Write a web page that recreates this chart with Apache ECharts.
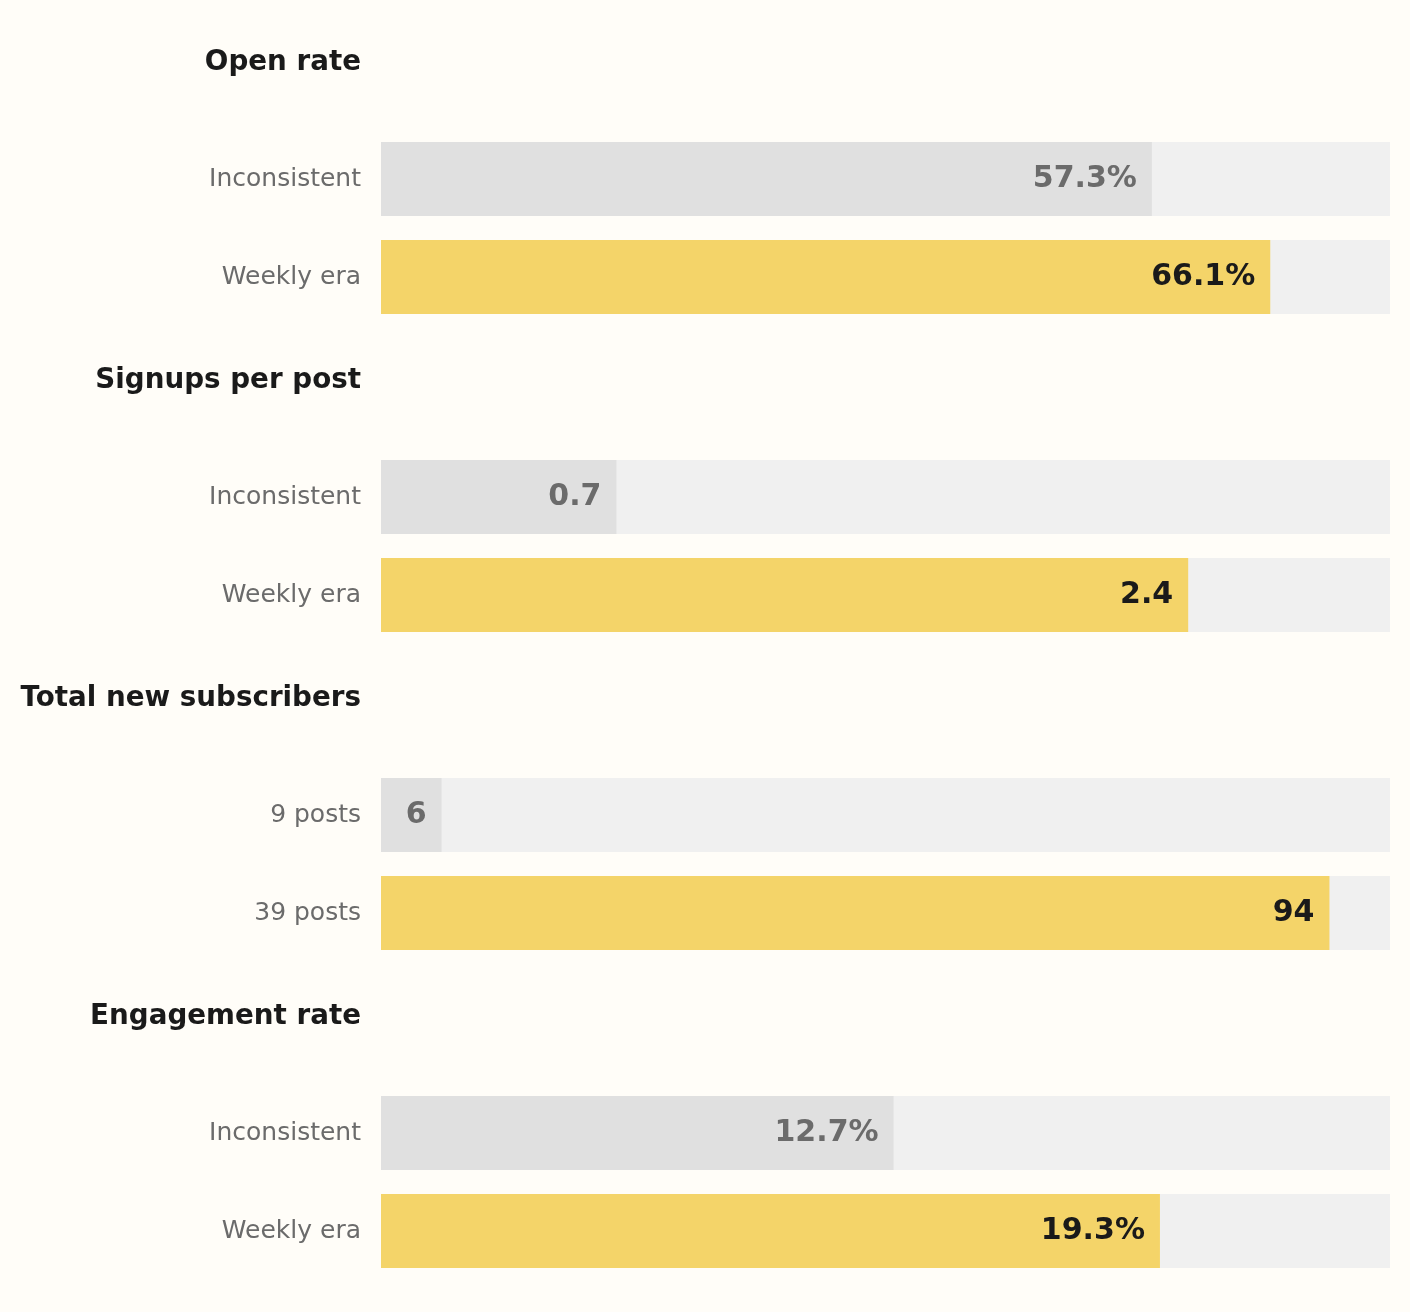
<!DOCTYPE html>
<html>
<head>
<meta charset="utf-8">
<script src="https://cdn.jsdelivr.net/npm/echarts@6/dist/echarts.min.js"></script>
<style>
  html, body { margin: 0; padding: 0; background: #FFFDF8; }
  #chart { width: 1410px; height: 1312px; }
</style>
</head>
<body>
<div id="chart"></div>
<script>
// data
const groupTitles = ['Open rate', 'Signups per post', 'Total new subscribers', 'Engagement rate'];
const rowLabels = [
  ['Inconsistent', 'Weekly era'],
  ['Inconsistent', 'Weekly era'],
  ['9 posts', '39 posts'],
  ['Inconsistent', 'Weekly era']
];
const beforeValues = [57.3, 0.7, 6, 12.7];
const afterValues = [66.1, 2.4, 94, 19.3];
const axisMax = [75, 3, 100, 25];
const units = ['%', '', '', '%'];

const FONT = 'DejaVu Sans';
const groupStep = 318;

const chart = echarts.init(document.getElementById('chart'));

const grids = [], xAxes = [], yAxes = [], series = [], texts = [];
groupTitles.forEach((title, i) => {
  const top = 130 + i * groupStep;
  grids.push({ left: 381, right: 20, top: top, height: 196 });
  xAxes.push({
    type: 'value', gridIndex: i, min: 0, max: axisMax[i], show: false
  });
  yAxes.push({
    type: 'category', gridIndex: i, inverse: true, data: rowLabels[i],
    axisLine: { show: false }, axisTick: { show: false },
    axisLabel: { color: '#6B6B6B', fontSize: 25, fontFamily: FONT, margin: 20 }
  });
  series.push({
    type: 'bar', xAxisIndex: i, yAxisIndex: i,
    barCategoryGap: '24.5%',
    showBackground: true,
    backgroundStyle: { color: '#F0F0F0' },
    data: [
      { value: beforeValues[i], itemStyle: { color: '#E0E0E0' }, label: { color: '#6B6B6B' } },
      { value: afterValues[i], itemStyle: { color: '#F4D469' }, label: { color: '#1A1A1A' } }
    ],
    label: {
      show: true, position: 'insideRight', distance: 15,
      fontSize: 30, fontWeight: 'bold', fontFamily: FONT,
      formatter: p => p.value + units[i]
    },
    silent: true, animation: false
  });
  // group heading, right aligned with the row labels
  texts.push({
    type: 'text', x: 361, y: 63 + i * groupStep,
    style: {
      text: title, fill: '#1A1A1A', font: 'bold 27.75px "' + FONT + '"',
      textAlign: 'right', textVerticalAlign: 'middle'
    }
  });
});

chart.setOption({
  backgroundColor: '#FFFDF8',
  animation: false,
  grid: grids,
  xAxis: xAxes,
  yAxis: yAxes,
  series: series,
  graphic: { elements: texts }
});
</script>
</body>
</html>
